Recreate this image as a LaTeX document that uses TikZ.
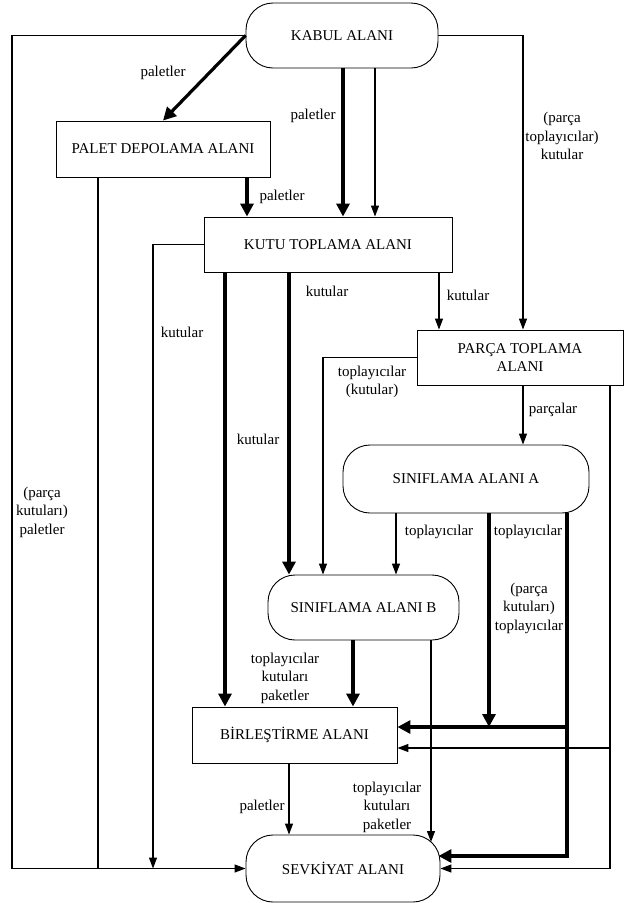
\documentclass[tikz,border=0pt]{standalone}
\usepackage{fontspec}
\setmainfont{Liberation Serif}
\usetikzlibrary{arrows.meta}
\begin{document}
\begin{tikzpicture}[x=1pt,y=-1pt,
  font=\fontsize{15}{18.5}\selectfont,
  box/.style={draw, line width=0.9pt, inner sep=0pt, align=center},
  rbox/.style={box, rounded corners=27pt},
  flow/.style={line width=1.2pt, -{Triangle[length=11pt,width=8pt]}},
  plain/.style={line width=1.2pt},
  bigflow/.style={line width=3.2pt, -{Triangle[length=13pt,width=13pt]}},
  bigline/.style={line width=3.2pt},
  lbl/.style={align=center, inner sep=0pt}]
\useasboundingbox (0,0) rectangle (624,903);

% areas
\node[rbox, minimum width=192pt, minimum height=65pt] (kabul) at (342,35.5) {KABUL ALANI};
\node[box, minimum width=214pt, minimum height=56pt] (palet) at (163,149) {PALET DEPOLAMA ALANI};
\node[box, minimum width=248pt, minimum height=55pt] (kutu) at (328,244.5) {KUTU TOPLAMA ALANI};
\node[box, minimum width=206pt, minimum height=55pt] (parca) at (520,357.5) {PARÇA TOPLAMA\\ALANI};
\node[rbox, minimum width=246pt, minimum height=68pt] (sinA) at (466,479) {SINIFLAMA ALANI A};
\node[rbox, minimum width=191pt, minimum height=65pt] (sinB) at (363.5,607.5) {SINIFLAMA ALANI B};
\node[box, minimum width=205pt, minimum height=56pt] (birl) at (294.5,735) {BİRLEŞTİRME ALANI};
\node[rbox, minimum width=194pt, minimum height=67pt] (sevk) at (343,868.5) {SEVKİYAT ALANI};

% columns and rows used by the connectors
\coordinate (L1) at (12,500);
\coordinate (c98) at (98,0);
\coordinate (c153) at (153,0);
\coordinate (c225) at (225,0);
\coordinate (c247) at (247,0);
\coordinate (c289) at (289,0);
\coordinate (c323) at (323,0);
\coordinate (c343) at (343,0);
\coordinate (c353) at (353,0);
\coordinate (c375) at (375,0);
\coordinate (c396) at (396,0);
\coordinate (c431) at (431,0);
\coordinate (c439) at (439,0);
\coordinate (c489) at (489,0);
\coordinate (c523) at (523,0);
\coordinate (c567) at (567,0);
\coordinate (c610) at (610,0);
\coordinate (r727) at (0,727);
\coordinate (r748) at (0,748);
\coordinate (r856) at (0,856);
\coordinate (sevkin) at (431,842);

% from KABUL ALANI
\draw[flow] (kabul.west) -| (L1) |- (sevk.west);
\draw[bigflow] (kabul.west) -- (palet.north);
\draw[bigflow] (kabul.south -| c343) -- (kutu.north -| c343);
\draw[flow] (kabul.south -| c375) -- (kutu.north -| c375);
\draw[flow] (kabul.east) -| (parca.north -| c523);

% from PALET DEPOLAMA ALANI
\draw[plain] (palet.south -| c98) -- (c98 |- sevk.west);
\draw[bigflow] (palet.south -| c247) -- (kutu.north -| c247);

% from KUTU TOPLAMA ALANI
\draw[flow] (kutu.west) -| (c153 |- sevk.west);
\draw[bigflow] (kutu.south -| c225) -- (birl.north -| c225);
\draw[bigflow] (kutu.south -| c289) -- (sinB.north -| c289);
\draw[flow] (kutu.south -| c439) -- (parca.north -| c439);

% from PARÇA TOPLAMA ALANI
\draw[flow] (parca.west) -| (sinB.north -| c323);
\draw[flow] (parca.south -| c523) -- (sinA.north -| c523);
\draw[flow] (parca.south -| c610) |- (sevk.east);
\draw[flow] (c610 |- r748) -- (birl.east |- r748);

% from SINIFLAMA ALANI A
\draw[flow] (sinA.south -| c396) -- (sinB.north -| c396);
\draw[bigflow] (sinA.south -| c489) -- (c489 |- r727);
\draw[bigflow] (sinA.south -| c567) |- ([xshift=-2pt]sevk.east |- r856);
\draw[bigflow] (c567 |- r727) -- (birl.east |- r727);

% from SINIFLAMA ALANI B
\draw[bigflow] (sinB.south -| c353) -- (birl.north -| c353);
\draw[flow] (sinB.south -| c431) -- (sevkin);

% from BİRLEŞTİRME ALANI
\draw[flow] (birl.south -| c289) -- (sevk.north -| c289);

% flow labels
\node[lbl] (t1) at (163,73) {paletler};
\node[lbl] (t2) at (313,116) {paletler};
\node[lbl] (t3) at (282,197) {paletler};
\node[lbl] (t4) at (562,136) {(parça\\toplayıcılar)\\kutular};
\node[lbl] (t5) at (182,332) {kutular};
\node[lbl] (t6) at (258,439) {kutular};
\node[lbl] (t7) at (327,291) {kutular};
\node[lbl] (t8) at (468,295) {kutular};
\node[lbl] (t9) at (372,382) {toplayıcılar\\(kutular)};
\node[lbl] (t10) at (553,410) {parçalar};
\node[lbl] (t11) at (439,532) {toplayıcılar};
\node[lbl] (t12) at (528,532) {toplayıcılar};
\node[lbl] (t13) at (529,608) {(parça\\kutuları)\\toplayıcılar};
\node[lbl] (t14) at (285,678) {toplayıcılar\\kutuları\\paketler};
\node[lbl] (t15) at (387,807) {toplayıcılar\\kutuları\\paketler};
\node[lbl] (t16) at (262,807) {paletler};
\node[lbl] (t17) at (42,512) {(parça\\kutuları)\\paletler};
\end{tikzpicture}
\end{document}
